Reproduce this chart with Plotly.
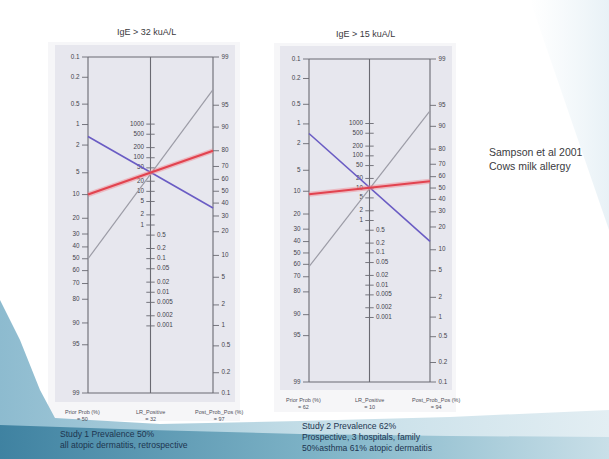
import numpy as np
import plotly.graph_objects as go

W, H = 609, 459

# ---------------- data ----------------
prob_ticks = [0.1, 0.2, 0.5, 1, 2, 5, 10, 20, 30, 40, 50, 60, 70, 80, 90, 95, 99]
prob_labels = ["0.1", "0.2", "0.5", "1", "2", "5", "10", "20", "30", "40", "50",
               "60", "70", "80", "90", "95", "99"]
lr_ticks = [1000, 500, 200, 100, 50, 20, 10, 5, 2, 1,
            0.5, 0.2, 0.1, 0.05, 0.02, 0.01, 0.005, 0.002, 0.001]
lr_labels = ["1000", "500", "200", "100", "50", "20", "10", "5", "2", "1",
             "0.5", "0.2", "0.1", "0.05", "0.02", "0.01", "0.005", "0.002", "0.001"]

titles = ["IgE > 32 kuA/L", "IgE > 15 kuA/L"]
# pre-test (left axis) and post-test (right axis) probabilities, %
study1_pre = [50, 10, 1.5]
study1_post = [97, 80, 36]
study2_pre = [62, 11, 1.4]
study2_post = [94, 56, 13]
line_colors = ["#9c9ca6", "#e2434f", "#6a5cc4"]
bottom_labels = [
    [("Prior Prob (%)", "= 50"), ("LR_Positive", "= 32"), ("Post_Prob_Pos (%)", "= 97")],
    [("Prior Prob (%)", "= 62"), ("LR_Positive", "= 10"), ("Post_Prob_Pos (%)", "= 94")],
]
footers = [
    ["Study 1 Prevalence 50%", "all atopic dermatitis, retrospective"],
    ["Study 2 Prevalence 62%", "Prospective, 3 hospitals, family", "50%asthma 61% atopic dermatitis"],
]
side_note = ["Sampson et al 2001", "Cows milk allergy"]


def logit(p):
    p = np.asarray(p, dtype=float) / 100.0
    return np.log(p / (1 - p))


A = float(logit(99) + logit(0.1))          # offset between left and right scales
V_TOP, V_BOT = float(logit(99)), float(logit(0.1))


def left_v(p):
    return A - logit(p)


def right_v(p):
    return logit(p)


def mid_v(lr):
    return (A + np.log(np.asarray(lr, dtype=float))) / 2


# panel geometry in pixels
panels = [
    dict(xl=88, xs=62.5, top=57, bot=393, box=(55, 45, 235, 402), outer=(48, 42, 240, 421)),
    dict(xl=309, xs=60.5, top=59, bot=382, box=(280, 46, 452, 390), outer=(274, 43, 456, 412)),
]


def px(x):
    return x / W


def py(y):
    return 1 - y / H


fig = go.Figure()

# ---------------- slide background (decorative) ----------------
fig.add_trace(go.Scatter(
    x=[0, 20, 40, 55, 160, 300, 450, 609, 609, 0],
    y=[300, 340, 390, 418, 424, 421, 417, 410, 459, 459],
    fill="toself", mode="lines", line=dict(width=0),
    fillgradient=dict(type="horizontal",
                      colorscale=[[0, "#8dbbcf"], [0.5, "#c3dde7"], [1, "#e3eef3"]]),
    xaxis="x3", yaxis="y3", hoverinfo="skip", showlegend=False))
fig.add_trace(go.Scatter(
    x=[0, 150, 300, 450, 609, 609, 0],
    y=[425, 430, 434, 436, 437, 459, 459],
    fill="toself", mode="lines", line=dict(width=0),
    fillgradient=dict(type="horizontal",
                      colorscale=[[0, "#3f82a1"], [0.55, "#82b6c9"], [1, "#c9dfe8"]]),
    xaxis="x3", yaxis="y3", hoverinfo="skip", showlegend=False))
fig.add_trace(go.Scatter(
    x=[530, 609, 609], y=[0, 0, 230],
    fill="toself", mode="lines", line=dict(width=0),
    fillgradient=dict(type="horizontal",
                      colorscale=[[0, "rgba(236,244,248,0)"], [1, "#e8f1f6"]]),
    xaxis="x3", yaxis="y3", hoverinfo="skip", showlegend=False))

shapes = []
annotations = []
AX = "#6a6a72"

studies = [(study1_pre, study1_post), (study2_pre, study2_post)]

for i, pnl in enumerate(panels):
    xa = "x" if i == 0 else "x2"
    ya = "y" if i == 0 else "y2"
    ox0, oy0, ox1, oy1 = pnl["outer"]
    shapes.append(dict(type="rect", xref="paper", yref="paper", layer="below",
                       x0=px(ox0), x1=px(ox1), y0=py(oy1), y1=py(oy0),
                       fillcolor="#f6f6f8", line=dict(width=0)))
    bx0, by0, bx1, by1 = pnl["box"]
    shapes.append(dict(type="rect", xref="paper", yref="paper", layer="below",
                       x0=px(bx0), x1=px(bx1), y0=py(by1), y1=py(by0),
                       fillcolor="#e7e7ee", line=dict(width=0)))

    tl = 6.0 / pnl["xs"]     # tick length in x units
    fig.add_trace(go.Scatter(
        x=[0, 0, None, 1, 1, None, 2, 2, None, 0, 2, None, 0, 2],
        y=[V_BOT, V_TOP, None, V_BOT, V_TOP, None, V_BOT, V_TOP, None,
           V_TOP, V_TOP, None, V_BOT, V_BOT],
        mode="lines", line=dict(color=AX, width=1.1),
        xaxis=xa, yaxis=ya, hoverinfo="skip", showlegend=False))

    tx, ty = [], []
    for p in prob_ticks:
        v = float(left_v(p))
        tx += [-tl, 0, None]; ty += [v, v, None]
        v = float(right_v(p))
        tx += [2, 2 + tl, None]; ty += [v, v, None]
    for lr in lr_ticks:
        v = float(mid_v(lr))
        tx += [1 - tl * 0.7, 1 + tl * 0.7, None]; ty += [v, v, None]
    fig.add_trace(go.Scatter(x=tx, y=ty, mode="lines", line=dict(color=AX, width=0.9),
                             xaxis=xa, yaxis=ya, hoverinfo="skip", showlegend=False))

    fnt = dict(family="Liberation Sans, Arial", size=6.3, color="#44444c")
    fig.add_trace(go.Scatter(
        x=[-tl * 1.4] * len(prob_ticks), y=left_v(prob_ticks), text=prob_labels,
        mode="text", textposition="middle left", textfont=fnt,
        xaxis=xa, yaxis=ya, hoverinfo="skip", showlegend=False))
    fig.add_trace(go.Scatter(
        x=[2 + tl * 1.4] * len(prob_ticks), y=right_v(prob_ticks), text=prob_labels,
        mode="text", textposition="middle right", textfont=fnt,
        xaxis=xa, yaxis=ya, hoverinfo="skip", showlegend=False))
    hi = [k for k, lr in enumerate(lr_ticks) if lr >= 1]
    lo = [k for k, lr in enumerate(lr_ticks) if lr < 1]
    fig.add_trace(go.Scatter(
        x=[1 - tl * 1.1] * len(hi), y=mid_v([lr_ticks[k] for k in hi]),
        text=[lr_labels[k] for k in hi],
        mode="text", textposition="middle left", textfont=fnt,
        xaxis=xa, yaxis=ya, hoverinfo="skip", showlegend=False))
    fig.add_trace(go.Scatter(
        x=[1 + tl * 1.1] * len(lo), y=mid_v([lr_ticks[k] for k in lo]),
        text=[lr_labels[k] for k in lo],
        mode="text", textposition="middle right", textfont=fnt,
        xaxis=xa, yaxis=ya, hoverinfo="skip", showlegend=False))

    pre, post = studies[i]
    for j in [0, 2, 1]:
        y0 = float(left_v(pre[j])); y1 = float(right_v(post[j]))
        if j == 1:
            fig.add_trace(go.Scatter(x=[0, 2], y=[y0, y1], mode="lines",
                                     line=dict(color="rgba(240,130,140,0.45)", width=5),
                                     xaxis=xa, yaxis=ya, hoverinfo="skip", showlegend=False))
            w = 2.2
        elif j == 2:
            w = 1.6
        else:
            w = 1.2
        fig.add_trace(go.Scatter(x=[0, 2], y=[y0, y1], mode="lines",
                                 line=dict(color=line_colors[j], width=w),
                                 xaxis=xa, yaxis=ya, hoverinfo="skip", showlegend=False))

    xl, xs = pnl["xl"], pnl["xs"]
    annotations.append(dict(text=titles[i], x=px(xl + xs * 1.0 - 4), y=py(pnl["top"] - 25),
                            xref="paper", yref="paper", showarrow=False,
                            xanchor="center", yanchor="middle",
                            font=dict(family="Liberation Sans, Arial", size=9, color="#3a3a40")))
    yb = pnl["box"][3] + 5
    for k, (l1, l2) in enumerate(bottom_labels[i]):
        xc = xl + xs * k - (6 if k == 0 else 0) + (6 if k == 2 else 0)
        annotations.append(dict(text=l1 + "<br>" + l2, x=px(xc), y=py(yb),
                                xref="paper", yref="paper", showarrow=False,
                                xanchor="center", yanchor="top",
                                font=dict(family="Liberation Sans, Arial", size=5.5, color="#50505a")))

annotations.append(dict(text="<br>".join(footers[0]), x=px(58), y=py(427),
                        xref="paper", yref="paper", showarrow=False, align="left",
                        xanchor="left", yanchor="top",
                        font=dict(family="Liberation Sans, Arial", size=8.6, color="#1d3550")))
annotations.append(dict(text="<br>".join(footers[1]), x=px(300), y=py(419),
                        xref="paper", yref="paper", showarrow=False, align="left",
                        xanchor="left", yanchor="top",
                        font=dict(family="Liberation Sans, Arial", size=8.6, color="#1d3550")))
annotations.append(dict(text="<br>".join(side_note), x=px(487), y=py(144),
                        xref="paper", yref="paper", showarrow=False, align="left",
                        xanchor="left", yanchor="top",
                        font=dict(family="Liberation Sans, Arial", size=10.5, color="#3a3a40")))


def axis_ranges(pnl):
    bx0, by0, bx1, by1 = pnl["box"]
    xr = [(bx0 - pnl["xl"]) / pnl["xs"], (bx1 - pnl["xl"]) / pnl["xs"]]
    ys = (pnl["bot"] - pnl["top"]) / (V_TOP - V_BOT)
    yr = [V_BOT - (by1 - pnl["bot"]) / ys, V_TOP + (pnl["top"] - by0) / ys]
    return xr, yr, [px(bx0), px(bx1)], [py(by1), py(by0)]


hidden = dict(visible=False, showgrid=False, zeroline=False, fixedrange=True)
xr1, yr1, xd1, yd1 = axis_ranges(panels[0])
xr2, yr2, xd2, yd2 = axis_ranges(panels[1])

fig.update_layout(
    width=W, height=H, margin=dict(l=0, r=0, t=0, b=0),
    paper_bgcolor="white", plot_bgcolor="rgba(0,0,0,0)",
    xaxis=dict(range=xr1, domain=xd1, **hidden),
    yaxis=dict(range=yr1, domain=yd1, **hidden),
    xaxis2=dict(range=xr2, domain=xd2, anchor="y2", **hidden),
    yaxis2=dict(range=yr2, domain=yd2, anchor="x2", **hidden),
    xaxis3=dict(range=[0, W], domain=[0, 1], anchor="y3", **hidden),
    yaxis3=dict(range=[H, 0], domain=[0, 1], anchor="x3", **hidden),
    shapes=shapes, annotations=annotations, showlegend=False,
)

fig.write_html("out.html", config={"displayModeBar": False},
               post_script="document.body.style.margin='0';document.body.style.overflow='hidden';")
